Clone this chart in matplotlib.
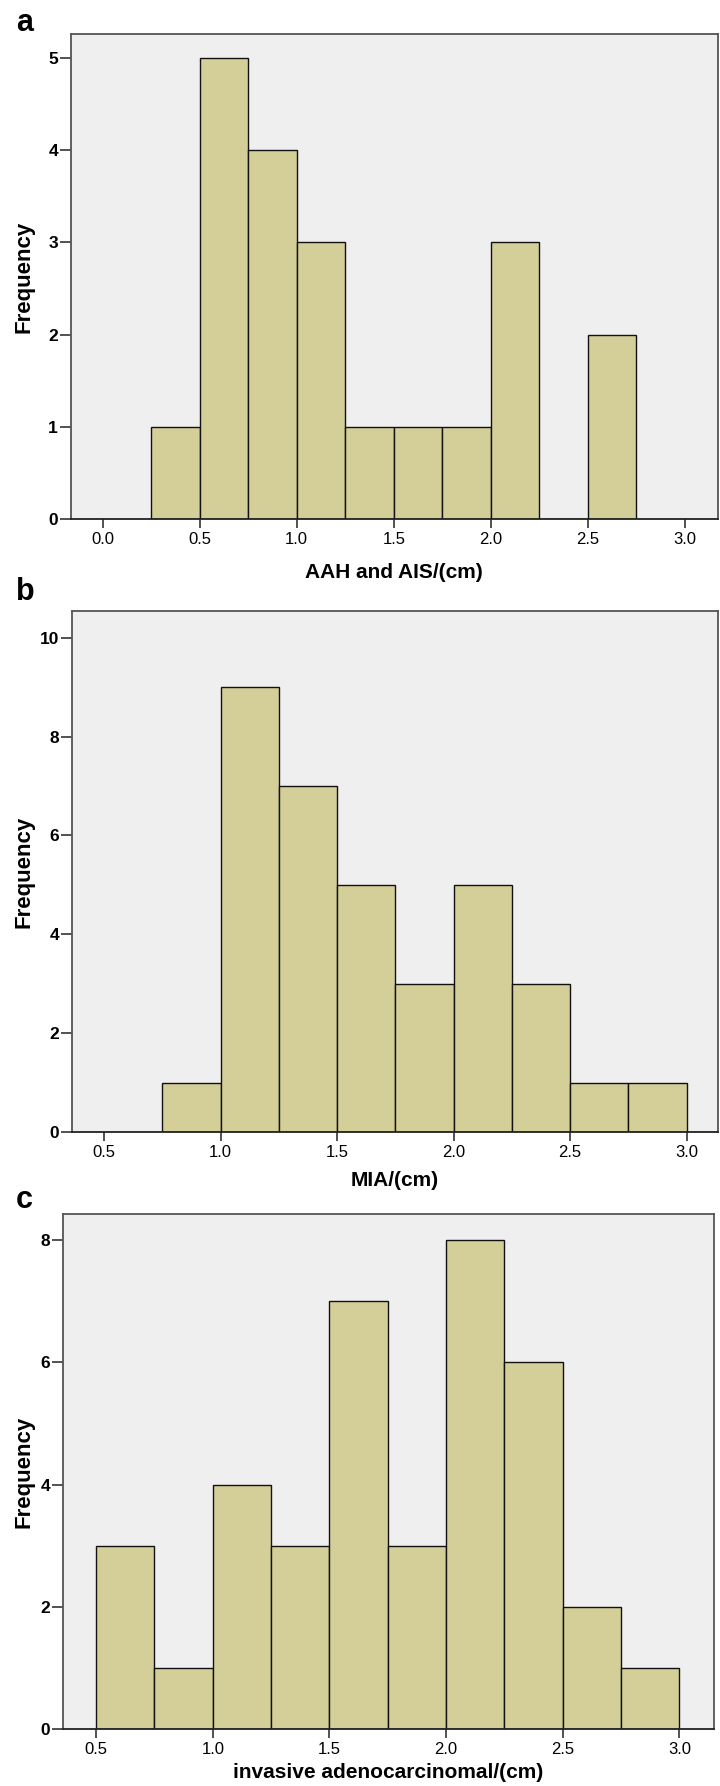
import numpy as np
import matplotlib
matplotlib.use('Agg')
import matplotlib.pyplot as plt
from matplotlib.transforms import blended_transform_factory

plt.rcParams['font.family'] = ['Liberation Sans', 'DejaVu Sans']

# bin left edges (cm) and counts, bin width 0.25
bins_a = [0.25, 0.50, 0.75, 1.00, 1.25, 1.50, 1.75, 2.00, 2.25, 2.50]
freq_a = [1, 5, 4, 3, 1, 1, 1, 3, 0, 2]

bins_b = [0.75, 1.00, 1.25, 1.50, 1.75, 2.00, 2.25, 2.50, 2.75]
freq_b = [1, 9, 7, 5, 3, 5, 3, 1, 1]

bins_c = [0.50, 0.75, 1.00, 1.25, 1.50, 1.75, 2.00, 2.25, 2.50, 2.75]
freq_c = [3, 1, 4, 3, 7, 3, 8, 6, 2, 1]

xticks_a = [0.0, 0.5, 1.0, 1.5, 2.0, 2.5, 3.0]
xticks_bc = [0.5, 1.0, 1.5, 2.0, 2.5, 3.0]

labels = ['AAH and AIS/(cm)', 'MIA/(cm)', 'invasive adenocarcinomal/(cm)']
letters = ['a', 'b', 'c']
width = 0.25

W, H = 720, 1786
fig = plt.figure(figsize=(W / 100, H / 100), dpi=100)

# pixel boxes: left, right, top, bottom
boxes = [(70.5, 718, 34, 519), (71.7, 718, 611, 1132), (63, 714, 1214, 1729)]
xlims = [(-0.165, 3.17), (0.361, 3.135), (0.358, 3.148)]
ylims = [5.26, 10.54, 8.43]
yticks = [np.arange(0, 6, 1), np.arange(0, 11, 2), np.arange(0, 9, 2)]
letter_y = [31, 600, 1208]
xlabel_y = [572, 1181, 1773]

panels = [(bins_a, freq_a, xticks_a), (bins_b, freq_b, xticks_bc), (bins_c, freq_c, xticks_bc)]

for i, (bins, freq, xt) in enumerate(panels):
    l, r, t, b = boxes[i]
    ax = fig.add_axes([l / W, 1 - b / H, (r - l) / W, (b - t) / H])
    ax.set_facecolor('#efefef')
    ax.bar(bins, freq, width=width, align='edge', color='#d4cf98',
           edgecolor='#111111', linewidth=1.0, zorder=2)
    ax.set_xlim(*xlims[i])
    ax.set_ylim(0, ylims[i])
    ax.set_xticks(xt)
    ax.set_xticklabels(['%.1f' % v for v in xt])
    ax.set_yticks(yticks[i])
    for s in ax.spines.values():
        s.set_color('#555555')
        s.set_linewidth(1.3)
    ax.spines['bottom'].set_color('#222222')
    ax.tick_params(axis='x', direction='out', length=6.5, width=1.2,
                   color='#333333', labelsize=12, pad=3)
    ax.tick_params(axis='y', direction='out', length=8, width=1.2,
                   color='#333333', labelsize=12.5, pad=1)
    for lab in ax.get_yticklabels():
        lab.set_fontweight('bold')

    ax.set_xlabel(labels[i], fontsize=15, fontweight='bold')
    ax.xaxis.label.set_va('center')
    ax.xaxis.set_label_coords(0.5, 1 - xlabel_y[i] / H,
                              transform=blended_transform_factory(ax.transAxes, fig.transFigure))
    ax.set_ylabel('Frequency', fontsize=16, fontweight='bold')
    ax.yaxis.label.set_va('center')
    ax.yaxis.set_label_coords(24 / W, 1 - (t + b) / 2 / H, transform=fig.transFigure)

    fig.text(16 / W, 1 - letter_y[i] / H, letters[i], fontsize=22,
             fontweight='bold', va='baseline', ha='left')

fig.savefig('out.png', dpi=100)
